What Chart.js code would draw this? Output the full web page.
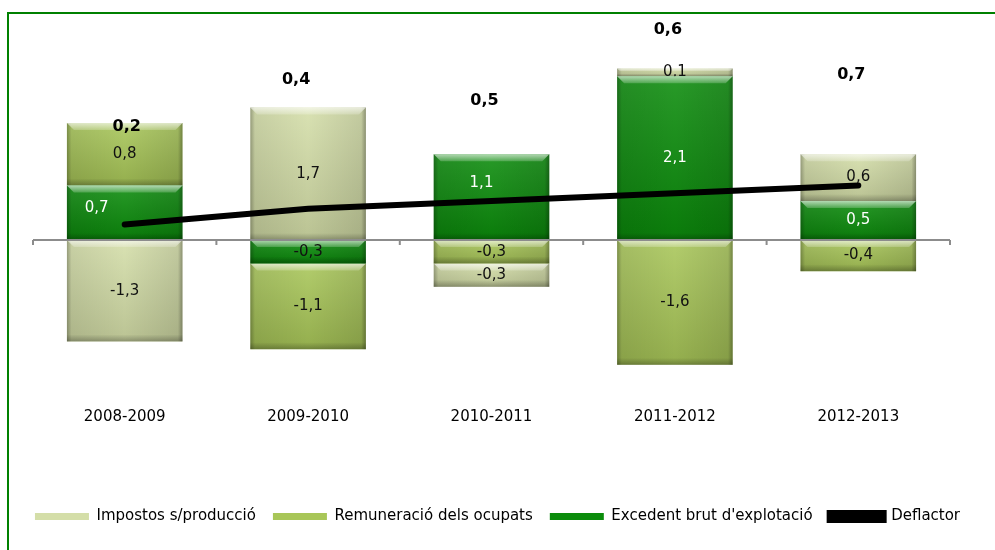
<!DOCTYPE html>
<html>
<head>
<meta charset="utf-8">
<script src="https://cdn.jsdelivr.net/npm/chart.js@4.4.0/dist/chart.umd.min.js"></script>
<style>
	html, body { margin: 0; padding: 0; background: #fff; }
	#wrap { width: 995px; height: 550px; position: relative; }
</style>
</head>
<body>
<div id="wrap"><canvas id="chart"></canvas></div>
<script>
	const periods = ['2008-2009', '2009-2010', '2010-2011', '2011-2012', '2012-2013'];
	const impostos = [-1.3, 1.7, -0.3, 0.1, 0.6];
	const remuneracio = [0.8, -1.1, -0.3, -1.6, -0.4];
	const excedent = [0.7, -0.3, 1.1, 2.1, 0.5];
	const deflactor = [0.2, 0.4, 0.5, 0.6, 0.7];
	const legendOrder = ['Impostos s/producció', 'Remuneració dels ocupats', "Excedent brut d'explotació", 'Deflactor'];

	const fontFamily = '"DejaVu Sans", Verdana, sans-serif';

	function fmt(v) {
		return v.toFixed(1).replace('.', ',');
	}

	// green frame round the whole chart
	const framePlugin = {
		id: 'frame',
		beforeDraw(chart) {
			const ctx = chart.ctx;
			ctx.save();
			ctx.strokeStyle = '#008000';
			ctx.lineWidth = 2;
			ctx.strokeRect(8, 13, chart.width + 20, chart.height + 20);
			ctx.restore();
		}
	};

	// zero line with small tick marks between categories, over the bars
	const zeroLinePlugin = {
		id: 'zeroLine',
		afterDatasetsDraw(chart) {
			const ctx = chart.ctx;
			const area = chart.chartArea;
			const y0 = chart.scales.y.getPixelForValue(0);
			const step = (area.right - area.left) / periods.length;
			ctx.save();
			ctx.strokeStyle = '#8c8c8c';
			ctx.lineWidth = 2;
			ctx.beginPath();
			ctx.moveTo(area.left, y0);
			ctx.lineTo(area.right, y0);
			for (let i = 0; i <= periods.length; i++) {
				const x = area.left + step * i;
				ctx.moveTo(x, y0);
				ctx.lineTo(x, y0 + 5);
			}
			ctx.stroke();
			ctx.restore();
		}
	};

	// bevel-like shading on every bar segment, then its value
	const bevelPlugin = {
		id: 'bevel',
		afterDatasetDraw(chart, args) {
			const meta = args.meta;
			if (meta.type !== 'bar') {
				return;
			}
			const ctx = chart.ctx;
			const ds = chart.data.datasets[args.index];

			meta.data.forEach(function (bar, i) {
				const p = bar.getProps(['x', 'y', 'base', 'width'], true);
				const w = p.width;
				const left = p.x - w / 2;
				const top = Math.min(p.y, p.base);
				const h = Math.abs(p.base - p.y);
				if (h < 1) {
					return;
				}
				ctx.save();

				let g = ctx.createLinearGradient(0, top, 0, top + h);
				g.addColorStop(0, 'rgba(255,255,255,0.12)');
				g.addColorStop(1, 'rgba(0,0,0,0.12)');
				ctx.fillStyle = g;
				ctx.fillRect(left, top, w, h);

				g = ctx.createLinearGradient(left, 0, left + w, 0);
				g.addColorStop(0, 'rgba(0,0,0,0.3)');
				g.addColorStop(0.04, 'rgba(0,0,0,0.08)');
				g.addColorStop(0.5, 'rgba(0,0,0,0)');
				g.addColorStop(0.96, 'rgba(0,0,0,0.1)');
				g.addColorStop(1, 'rgba(0,0,0,0.35)');
				ctx.fillStyle = g;
				ctx.fillRect(left, top, w, h);

				const band = Math.min(7, h / 3);
				g = ctx.createLinearGradient(0, top, 0, top + band);
				g.addColorStop(0, 'rgba(255,255,255,0.65)');
				g.addColorStop(1, 'rgba(255,255,255,0.2)');
				ctx.fillStyle = g;
				ctx.beginPath();
				ctx.moveTo(left, top);
				ctx.lineTo(left + w, top);
				ctx.lineTo(left + w - band, top + band);
				ctx.lineTo(left + band, top + band);
				ctx.closePath();
				ctx.fill();

				g = ctx.createLinearGradient(0, top + h - band, 0, top + h);
				g.addColorStop(0, 'rgba(0,0,0,0)');
				g.addColorStop(1, 'rgba(0,0,0,0.25)');
				ctx.fillStyle = g;
				ctx.fillRect(left, top + h - band, w, band);

				const v = ds.data[i];
				const shift = ds.labelShift ? ds.labelShift[i] : [0, 0];
				ctx.fillStyle = (ds.lightLabels && Math.abs(v) >= 0.5) ? '#ffffff' : '#111111';
				ctx.font = '15px ' + fontFamily;
				ctx.textAlign = 'center';
				ctx.textBaseline = 'middle';
				ctx.fillText(fmt(v), p.x + shift[0], (p.y + p.base) / 2 + shift[1]);
				ctx.restore();
			});
		}
	};

	// deflactor values, placed by hand above the columns as in the source
	const deflactorLabelPlugin = {
		id: 'deflactorLabels',
		afterDraw(chart, args, opts) {
			const ctx = chart.ctx;
			const xs = chart.scales.x;
			const ys = chart.scales.y;
			ctx.save();
			ctx.fillStyle = '#000';
			ctx.font = 'bold 16px ' + fontFamily;
			ctx.textAlign = 'center';
			ctx.textBaseline = 'middle';
			deflactor.forEach(function (v, i) {
				ctx.fillText(fmt(v), xs.getPixelForValue(i) + opts.dx[i], ys.getPixelForValue(opts.at[i]));
			});
			ctx.restore();
		}
	};

	// invisible side axes that only reserve room left and right of the plot
	function spacerAxis(position, width) {
		return {
			type: 'linear',
			position: position,
			stacked: true,
			min: -2,
			max: 3,
			grid: { display: false, drawTicks: false },
			border: { display: false },
			ticks: { display: false },
			afterFit(scale) {
				scale.width = width;
			}
		};
	}

	new Chart(document.getElementById('chart'), {
		data: {
			labels: periods,
			datasets: [
				{
					type: 'bar',
					label: "Excedent brut d'explotació",
					data: excedent,
					backgroundColor: '#0b8c0b',
					lightLabels: true,
					labelShift: [[-28, -5], [0, 0], [-10, -14], [0, 0], [0, 0]]
				},
				{
					type: 'bar',
					label: 'Remuneració dels ocupats',
					data: remuneracio,
					backgroundColor: '#a8c658'
				},
				{
					type: 'bar',
					label: 'Impostos s/producció',
					data: impostos,
					backgroundColor: '#d4dea8'
				},
				{
					type: 'line',
					label: 'Deflactor',
					data: deflactor,
					stack: 'deflactor',
					order: -1,
					borderColor: '#000',
					backgroundColor: '#000',
					borderWidth: 6,
					borderCapStyle: 'round',
					pointRadius: 0,
					tension: 0
				}
			]
		},
		options: {
			responsive: true,
			maintainAspectRatio: false,
			animation: false,
			layout: { padding: { top: 6, left: 0, right: 0, bottom: 16 } },
			datasets: {
				bar: { categoryPercentage: 1, barPercentage: 0.63, borderWidth: 0 }
			},
			scales: {
				x: {
					stacked: true,
					grid: { display: false, drawTicks: false },
					border: { display: false },
					ticks: { color: '#000', padding: 12, font: { family: fontFamily, size: 15 } },
					afterFit(scale) {
						scale.height = 96;
					}
				},
				y: spacerAxis('left', 33),
				yRight: spacerAxis('right', 45)
			},
			plugins: {
				legend: {
					position: 'bottom',
					labels: {
						color: '#000',
						boxWidth: 54,
						boxHeight: 7,
						padding: 17,
						font: { family: fontFamily, size: 15 },
						sort: function (a, b) {
							return legendOrder.indexOf(a.text) - legendOrder.indexOf(b.text);
						}
					}
				},
				tooltip: { enabled: false },
				deflactorLabels: {
					at: [1.45, 2.05, 1.78, 2.69, 2.12],
					dx: [2, -12, -7, -7, -7]
				}
			}
		},
		plugins: [framePlugin, zeroLinePlugin, bevelPlugin, deflactorLabelPlugin]
	});
</script>
</body>
</html>
